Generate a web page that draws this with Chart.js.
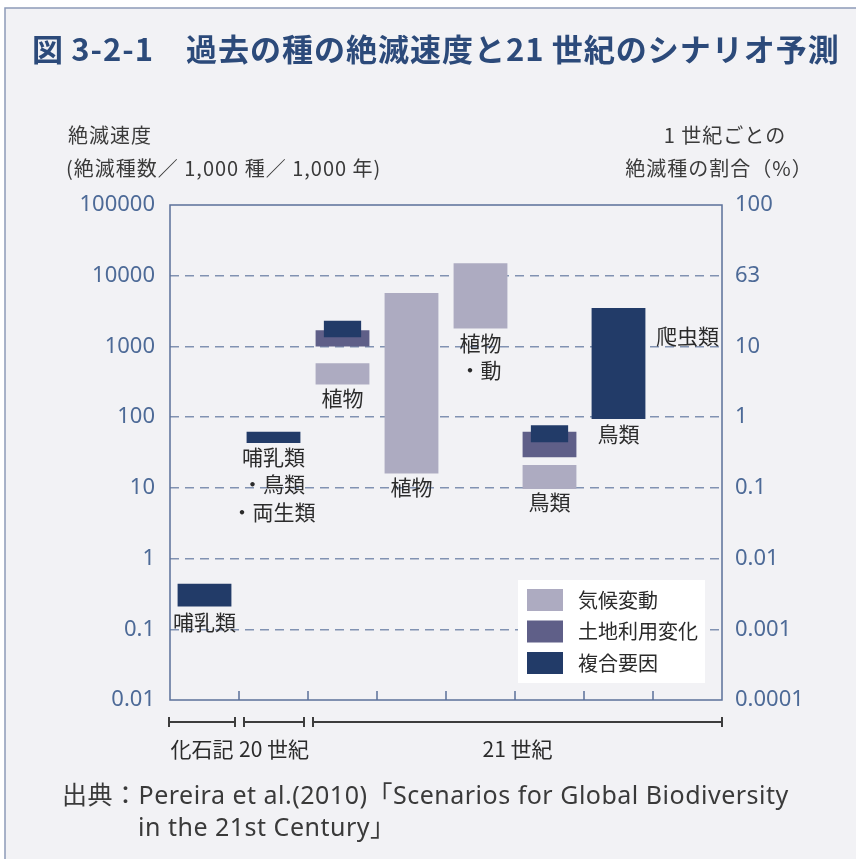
<!DOCTYPE html>
<html>
<head>
<meta charset="utf-8">
<title>図3-2-1 過去の種の絶滅速度と21世紀のシナリオ予測</title>
<script src="https://cdn.jsdelivr.net/npm/chart.js@4.4.1/dist/chart.umd.min.js"></script>
<style>
  html, body { margin: 0; padding: 0; background: #fff; }
  canvas { display: block; }
</style>
</head>
<body>
<canvas id="chart" width="856" height="859"></canvas>
<script>
// categories (one slot per column on the x axis)
const categories = ['化石記録', '20世紀', '21世紀-植物(土地)', '21世紀-植物(気候)', '21世紀-植物・動物', '21世紀-鳥類(複数)', '21世紀-鳥類(複合)', '21世紀-爬虫類'];

// floating bars [low, high] in extinctions / 1,000 species / 1,000 years
const climateChange = [null, null, [290, 580], [16, 5700], [1800, 15000], [9.6, 21], null, null];
const landUseChange = [null, null, [1000, 1700], null, null, [27, 62], null, null];
const combinedFactors = [[0.21, 0.44], [43, 62], null, null, null, null, [94, 3500], null];
const combinedNested = [null, null, [1350, 2300], null, null, [44, 77], null, null];

const seriesNames = ['気候変動', '土地利用変化', '複合要因'];
const seriesColors = ['#adabc1', '#5f5f88', '#223b68'];

// axis ticks
const yTicks = [0.01, 0.1, 1, 10, 100, 1000, 10000, 100000];
const leftTickLabels = ['0.01', '0.1', '1', '10', '100', '1000', '10000', '100000'];
const rightTickLabels = ['0.0001', '0.001', '0.01', '0.1', '1', '10', '63', '100'];

// group labels written next to the bars
const noteTexts = ['哺乳類', '哺乳類', '・鳥類', '・両生類', '植物', '植物', '植物', '・動', '鳥類', '鳥類', '爬虫類'];
const noteBins = [0, 1, 1, 1, 2, 3, 4, 4, 5, 6, 7];
const noteValues = [0.127, 27.3, 11.3, 4.55, 187, 10.3, 1117, 464, 6.3, 57.7, 1403];

// periods under the x axis
const periodNames = ['化石記', '20 世紀', '21 世紀'];
const periodFrom = [0, 1, 2];
const periodTo = [0, 1, 7];

const TEXT_FONT = "'Noto Sans CJK JP', 'Noto Sans', sans-serif";
const NUM_FONT = "'Noto Sans', 'Noto Sans CJK JP', sans-serif";
const AXIS_BLUE = '#4d6a97';
const FRAME = '#5b7099';

// background panel, frame and plot border
const backgroundPlugin = {
    id: 'background',
    beforeDraw(chart) {
        const ctx = chart.ctx;
        ctx.save();
        ctx.fillStyle = '#ffffff';
        ctx.fillRect(0, 0, chart.width, chart.height);
        ctx.fillStyle = '#f2f2f5';
        ctx.fillRect(5, 8, chart.width - 5, chart.height - 8);
        ctx.strokeStyle = '#8d9bb8';
        ctx.lineWidth = 1.5;
        ctx.beginPath();
        ctx.moveTo(5, chart.height);
        ctx.lineTo(5, 8);
        ctx.lineTo(chart.width, 8);
        ctx.stroke();
        ctx.restore();
    }
};

const decorPlugin = {
    id: 'decor',
    afterDraw(chart) {
        const ctx = chart.ctx;
        const area = chart.chartArea;
        const x = chart.scales.x;
        const y = chart.scales.y;
        const half = (x.getPixelForValue(1) - x.getPixelForValue(0)) / 2;
        ctx.save();

        // plot frame
        ctx.strokeStyle = FRAME;
        ctx.lineWidth = 1.5;
        ctx.strokeRect(area.left, area.top, area.right - area.left, area.bottom - area.top);

        // inner ticks between columns
        ctx.beginPath();
        for (let i = 1; i < categories.length; i++) {
            const px = x.getPixelForValue(i) - half;
            ctx.moveTo(px, area.bottom);
            ctx.lineTo(px, area.bottom - 9);
        }
        ctx.stroke();

        // labels next to bars
        ctx.fillStyle = '#2b2b2b';
        ctx.font = '21px ' + TEXT_FONT;
        ctx.textAlign = 'center';
        ctx.textBaseline = 'middle';
        noteTexts.forEach((t, i) => {
            ctx.fillText(t, x.getPixelForValue(noteBins[i]), y.getPixelForValue(noteValues[i]));
        });

        // period brackets
        ctx.strokeStyle = '#3d3d3d';
        ctx.lineWidth = 2;
        const by = area.bottom + 22;
        periodNames.forEach((name, i) => {
            let x1 = x.getPixelForValue(periodFrom[i]) - half;
            let x2 = x.getPixelForValue(periodTo[i]) + half;
            x1 += periodFrom[i] === 0 ? -1 : 5;
            x2 -= periodTo[i] === categories.length - 1 ? 0 : 4;
            ctx.beginPath();
            ctx.moveTo(x1, by); ctx.lineTo(x2, by);
            ctx.moveTo(x1, by - 5); ctx.lineTo(x1, by + 5);
            ctx.moveTo(x2, by - 5); ctx.lineTo(x2, by + 5);
            ctx.stroke();
            ctx.fillText(name, (x1 + x2) / 2, by + 27);
        });

        // legend
        const lx = 518, ly = 580;
        ctx.font = '20px ' + TEXT_FONT;
        ctx.fillStyle = '#ffffff';
        ctx.fillRect(lx, ly, 187, 103);
        seriesNames.forEach((name, i) => {
            const rowY = ly + 20 + i * 31.5;
            ctx.fillStyle = seriesColors[i];
            ctx.fillRect(lx + 9, rowY - 11, 36, 22);
            ctx.fillStyle = '#2b2b2b';
            ctx.textAlign = 'left';
            ctx.fillText(name, lx + 60, rowY);
        });

        // title
        ctx.fillStyle = '#2c4a7a';
        ctx.font = '600 31px ' + TEXT_FONT;
        ctx.letterSpacing = '1px';
        ctx.textAlign = 'left';
        ctx.fillText('図\u20093-2-1　過去の種の絶滅速度と21\u2009世紀のシナリオ予測', 32, 49);

        // axis titles
        ctx.fillStyle = '#3a3a3a';
        ctx.font = '20px ' + TEXT_FONT;
        ctx.letterSpacing = '1px';
        ctx.fillText('絶滅速度', 68, 135);
        ctx.fillText('(絶滅種数／ 1,000 種／ 1,000 年)', 66, 168);
        ctx.textAlign = 'center';
        ctx.fillText('1 世紀ごとの', 725, 135);
        ctx.fillText('絶滅種の割合（%）', 719, 168);

        // source
        ctx.font = '25px ' + NUM_FONT;
        ctx.letterSpacing = '0.5px';
        ctx.textAlign = 'left';
        ctx.fillText('出典：Pereira et al.(2010)「Scenarios for Global Biodiversity', 62, 797);
        ctx.fillText('in the 21st Century」', 138, 829);
        ctx.letterSpacing = '0px';
        ctx.restore();
    }
};

const tickFont = { family: NUM_FONT, size: 22 };

new Chart(document.getElementById('chart').getContext('2d'), {
    type: 'bar',
    data: {
        labels: categories,
        datasets: [
            { label: seriesNames[2], data: combinedNested, backgroundColor: seriesColors[2], barPercentage: 0.54, categoryPercentage: 1 },
            { label: seriesNames[2], data: combinedFactors, backgroundColor: seriesColors[2], barPercentage: 0.78, categoryPercentage: 1 },
            { label: seriesNames[1], data: landUseChange, backgroundColor: seriesColors[1], barPercentage: 0.78, categoryPercentage: 1 },
            { label: seriesNames[0], data: climateChange, backgroundColor: seriesColors[0], barPercentage: 0.78, categoryPercentage: 1 }
        ]
    },
    options: {
        responsive: false,
        animation: false,
        devicePixelRatio: 1,
        layout: { padding: { left: 60, right: 24, top: 205, bottom: 159 } },
        plugins: { legend: { display: false }, tooltip: { enabled: false } },
        scales: {
            x: { display: false, stacked: true, offset: true },
            y: {
                type: 'logarithmic',
                position: 'left',
                min: 0.01,
                max: 100000,
                afterBuildTicks: s => { s.ticks = yTicks.map(v => ({ value: v })); },
                afterFit: s => { s.width = 110; },
                ticks: {
                    autoSkip: false,
                    padding: 15,
                    color: AXIS_BLUE,
                    font: tickFont,
                    callback: v => leftTickLabels[yTicks.indexOf(v)]
                },
                grid: {
                    drawTicks: false,
                    lineWidth: 1.5,
                    color: c => (c.tick && (c.tick.value === yTicks[0] || c.tick.value === yTicks[yTicks.length - 1])) ? 'rgba(0,0,0,0)' : '#8192b2'
                },
                border: { display: false, dash: [9, 6] }
            },
            y2: {
                type: 'logarithmic',
                position: 'right',
                min: 0.01,
                max: 100000,
                afterBuildTicks: s => { s.ticks = yTicks.map(v => ({ value: v })); },
                afterFit: s => { s.width = 110; },
                ticks: {
                    autoSkip: false,
                    padding: 13,
                    color: AXIS_BLUE,
                    font: tickFont,
                    callback: v => rightTickLabels[yTicks.indexOf(v)]
                },
                grid: { display: false, drawTicks: false },
                border: { display: false }
            }
        }
    },
    plugins: [backgroundPlugin, decorPlugin]
});
</script>
</body>
</html>
